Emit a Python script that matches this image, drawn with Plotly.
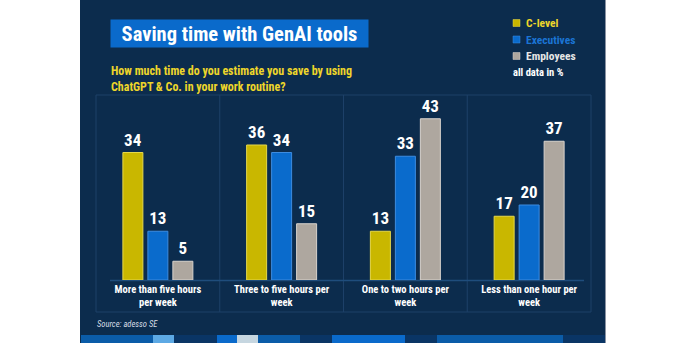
import plotly.graph_objects as go

# ---- data -------------------------------------------------------------
categories = [
    "More than five hours<br>per week",
    "Three to five hours per<br>week",
    "One to two hours per<br>week",
    "Less than one hour per<br>week",
]
series_names = ["C-level", "Executives", "Employees"]
c_level = [34, 36, 13, 17]
executives = [13, 34, 33, 20]
employees = [5, 15, 43, 37]

# ---- styling ----------------------------------------------------------
W, H = 686, 343
FONT = "Roboto Condensed, Liberation Sans Narrow, Roboto, sans-serif"
PANEL = "#0C2C4D"
GRIDLINE = "#1D4068"
BASELINE = "#1F4D7C"
YELLOW = "#C9B700"
BLUE = "#0A6BCC"
GREY = "#AEA79F"
bar_colors = [YELLOW, BLUE, GREY]
bar_edges = ["#E6D84A", "#3D8CE0", "#D8D2CC"]
legend_text_colors = ["#EED62A", "#1B74D4", "#E6E6E6"]


def px(x):
    return x / W


def py(y):
    return 1 - y / H


fig = go.Figure()
for name, vals, col, edge in zip(series_names, [c_level, executives, employees], bar_colors, bar_edges):
    fig.add_trace(go.Bar(
        x=categories, y=vals, name=name,
        marker=dict(color=col, line=dict(color=edge, width=1)),
        text=[str(v) for v in vals], textposition="outside",
        textfont=dict(family=FONT, size=17, color="white", weight="bold"),
        cliponaxis=False, showlegend=False,
    ))

shapes = []
# dark panel
shapes.append(dict(type="rect", xref="paper", yref="paper", x0=px(80), x1=px(605), y0=0, y1=1,
                   fillcolor=PANEL, line=dict(width=0), layer="below"))
shapes.append(dict(type="line", xref="paper", yref="paper", x0=px(605.5), x1=px(605.5), y0=0, y1=1,
                   line=dict(color="#8A93A3", width=1), layer="below"))
# panel boxes
shapes.append(dict(type="rect", xref="paper", yref="paper", x0=px(96), x1=px(591), y0=py(312), y1=py(95),
                   line=dict(color=GRIDLINE, width=1), layer="below"))
for xd in [219.75, 343.5, 467.25]:
    shapes.append(dict(type="line", xref="paper", yref="paper", x0=px(xd), x1=px(xd), y0=py(312), y1=py(95),
                       line=dict(color=GRIDLINE, width=1), layer="below"))
# baseline
shapes.append(dict(type="line", xref="paper", yref="paper", x0=px(110), x1=px(584), y0=py(280.5), y1=py(280.5),
                   line=dict(color=BASELINE, width=1.5), layer="below"))
# decorative colour strip along the bottom
strip = [(81, 153, "#0B5CA8"), (153, 174, "#5DA9E4"), (174, 217, "#0A3565"), (217, 237, "#0A6ACB"),
         (237, 258, "#C6D6E0"), (258, 300, "#0B5CA8"), (300, 332, "#0A3565"), (332, 405, "#0A6ACB"),
         (405, 437, "#0A3565"), (437, 563, "#0B5CA8"), (563, 605, "#0A3565")]
for x0, x1, c in strip:
    shapes.append(dict(type="rect", xref="paper", yref="paper", x0=px(x0), x1=px(x1), y0=0, y1=py(335),
                       fillcolor=c, line=dict(width=0), layer="above"))
# legend squares
for i, c in enumerate(bar_colors):
    yc = 23 + 16.5 * i
    shapes.append(dict(type="rect", xref="paper", yref="paper", x0=px(513), x1=px(520), y0=py(yc + 3.5), y1=py(yc - 3.5),
                       fillcolor=c, line=dict(color=bar_edges[i], width=0.5), layer="above"))

annotations = []
annotations.append(dict(
    text="<b>Saving time with GenAI tools</b>", x=px(110), y=py(19), xref="paper", yref="paper",
    xanchor="left", yanchor="top", showarrow=False, bgcolor="#0A6ACB", width=257, height=27, borderpad=0,
    align="center", valign="middle", font=dict(family=FONT, size=20.5, color="white")))
annotations.append(dict(
    text="<b>How much time do you estimate you save by using<br>ChatGPT & Co. in your work routine?</b>",
    x=px(109), y=py(62), xref="paper", yref="paper", xanchor="left", yanchor="top", showarrow=False,
    align="left", font=dict(family=FONT, size=12, color="#EED62A")))
for i, name in enumerate(series_names):
    yc = 23 + 16.5 * i
    annotations.append(dict(
        text=f"<b>{name}</b>", x=px(524), y=py(yc), xref="paper", yref="paper", xanchor="left", yanchor="middle",
        showarrow=False, font=dict(family=FONT, size=11.5, color=legend_text_colors[i])))
annotations.append(dict(
    text="<b>all data in %</b>", x=px(511), y=py(73), xref="paper", yref="paper", xanchor="left", yanchor="middle",
    showarrow=False, font=dict(family=FONT, size=10.5, color="white")))
annotations.append(dict(
    text="<i>Source: adesso SE</i>", x=px(95), y=py(324), xref="paper", yref="paper", xanchor="left",
    yanchor="middle", showarrow=False, font=dict(family=FONT, size=8.5, color="#D8DEE6")))

fig.update_layout(
    width=W, height=H, margin=dict(l=0, r=0, t=0, b=0),
    paper_bgcolor="white", plot_bgcolor="rgba(0,0,0,0)",
    barmode="group", bargap=0.394, bargroupgap=0.2,
    shapes=shapes, annotations=annotations,
    xaxis=dict(domain=[px(96), px(591)], range=[-0.5, 3.5], showgrid=False, zeroline=False, showline=False,
               ticks="", tickfont=dict(family=FONT, size=10.5, color="white", weight="bold"),
               ticklabelstandoff=1, fixedrange=True),
    yaxis=dict(domain=[py(280), py(95)], range=[0, 185 / 3.75], visible=False, fixedrange=True),
    font=dict(family=FONT),
)

fig.write_html("out.html")
